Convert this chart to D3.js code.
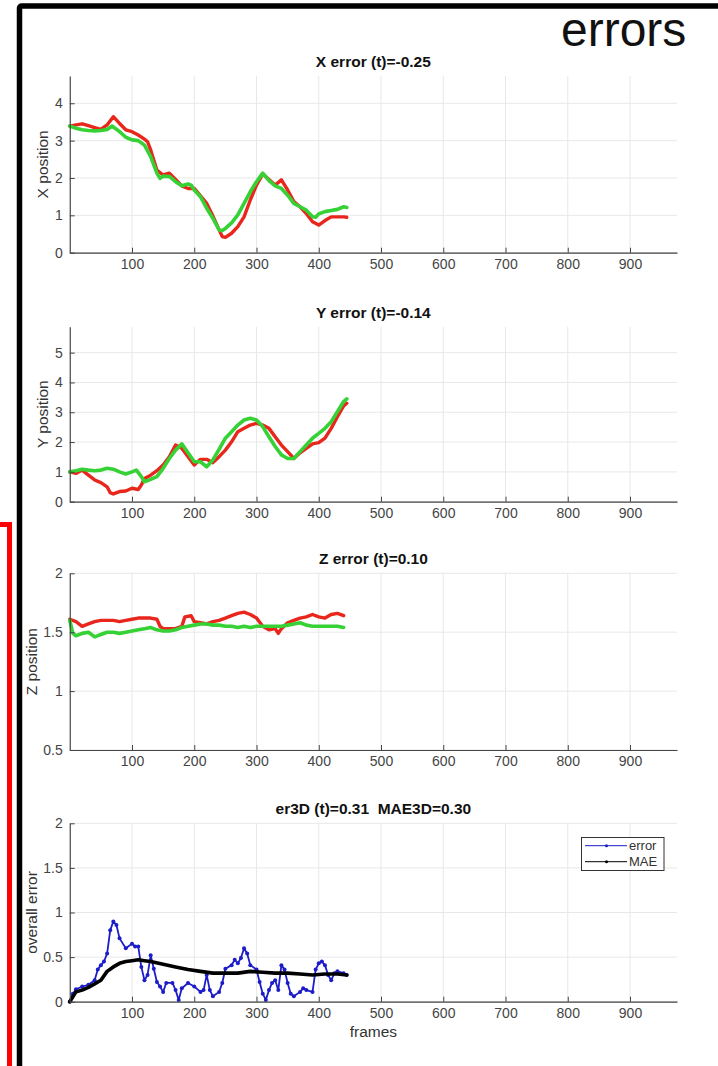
<!DOCTYPE html>
<html>
<head>
<meta charset="utf-8">
<title>errors</title>
<style>
  body { margin: 0; background: #fff; }
  svg text { font-family: "Liberation Sans", Arial, sans-serif; }
</style>
</head>
<body>
<script src="https://cdn.jsdelivr.net/npm/d3@7"></script>
<script>
// frame ticks shared by all panels
var frameTicks = [100, 200, 300, 400, 500, 600, 700, 800, 900];

// X position: [frame, value]
var xRed = [[0,3.39],[10,3.42],[20,3.45],[30,3.4],[40,3.35],[50,3.3],[60,3.42],[70,3.64],[80,3.46],[90,3.29],[100,3.24],[110,3.15],[120,3.04],[125,2.97],[130,2.75],[140,2.21],[150,2.08],[160,2.13],[170,1.96],[180,1.79],[190,1.72],[200,1.72],[210,1.52],[220,1.32],[230,0.98],[240,0.61],[245,0.43],[250,0.41],[260,0.52],[270,0.7],[280,0.96],[290,1.41],[300,1.81],[310,2.11],[320,1.96],[330,1.81],[340,1.95],[350,1.68],[360,1.37],[370,1.23],[380,1.05],[390,0.83],[400,0.74],[410,0.86],[420,0.96],[430,0.96],[440,0.96],[445,0.95]];
var xGreen = [[0,3.39],[10,3.33],[20,3.29],[30,3.27],[40,3.26],[50,3.27],[60,3.3],[68,3.39],[80,3.24],[90,3.09],[100,3.02],[110,3.0],[120,2.88],[130,2.57],[140,2.13],[145,1.99],[150,2.05],[160,2.04],[170,1.9],[180,1.79],[190,1.84],[195,1.81],[200,1.68],[210,1.5],[220,1.19],[230,0.92],[240,0.61],[245,0.59],[250,0.65],[260,0.8],[270,1.01],[280,1.32],[290,1.63],[300,1.9],[310,2.13],[320,1.93],[330,1.79],[340,1.72],[350,1.54],[360,1.32],[370,1.23],[380,1.14],[390,0.96],[395,0.95],[400,1.04],[410,1.1],[420,1.13],[430,1.16],[440,1.23],[445,1.21]];

// Y position
var yRed = [[0,1.0],[10,0.95],[20,1.06],[30,0.89],[40,0.73],[50,0.64],[60,0.5],[65,0.3],[70,0.26],[80,0.34],[90,0.36],[100,0.45],[110,0.41],[115,0.56],[120,0.78],[130,0.89],[140,1.04],[150,1.23],[160,1.51],[170,1.9],[180,1.79],[190,1.51],[200,1.23],[210,1.42],[220,1.42],[230,1.31],[240,1.51],[250,1.73],[260,2.01],[270,2.35],[280,2.46],[290,2.57],[300,2.63],[310,2.57],[320,2.46],[330,2.18],[340,1.9],[350,1.68],[360,1.45],[370,1.64],[380,1.79],[390,1.94],[400,1.98],[410,2.13],[420,2.46],[430,2.85],[440,3.21],[445,3.3]];
var yGreen = [[0,1.0],[10,1.04],[20,1.09],[30,1.06],[40,1.04],[50,1.06],[60,1.12],[70,1.09],[80,1.0],[90,0.93],[100,1.0],[107,1.06],[115,0.84],[120,0.67],[130,0.75],[140,0.84],[150,1.12],[160,1.45],[170,1.73],[180,1.94],[190,1.64],[200,1.34],[210,1.34],[220,1.17],[230,1.4],[240,1.76],[250,2.13],[260,2.35],[270,2.57],[280,2.74],[290,2.8],[300,2.74],[310,2.52],[320,2.18],[330,1.85],[340,1.57],[350,1.45],[360,1.45],[370,1.68],[380,1.9],[390,2.13],[400,2.29],[410,2.46],[420,2.68],[430,3.02],[440,3.36],[445,3.45]];

// Z position
var zRed = [[0,1.61],[10,1.59],[20,1.55],[30,1.57],[40,1.59],[50,1.6],[60,1.6],[70,1.6],[80,1.59],[90,1.6],[100,1.61],[110,1.62],[120,1.62],[130,1.62],[140,1.61],[145,1.55],[150,1.53],[160,1.53],[170,1.53],[180,1.55],[185,1.63],[195,1.64],[200,1.59],[210,1.58],[220,1.57],[230,1.59],[240,1.6],[250,1.62],[260,1.64],[270,1.66],[280,1.67],[290,1.65],[300,1.62],[310,1.55],[320,1.52],[330,1.53],[335,1.49],[340,1.53],[350,1.58],[360,1.6],[370,1.62],[380,1.63],[390,1.65],[400,1.63],[410,1.62],[420,1.65],[430,1.66],[440,1.64]];
var zGreen = [[0,1.6],[5,1.49],[10,1.47],[20,1.49],[30,1.5],[40,1.46],[50,1.48],[60,1.5],[70,1.5],[80,1.49],[90,1.5],[100,1.51],[110,1.52],[120,1.53],[130,1.54],[140,1.52],[150,1.51],[160,1.51],[170,1.52],[180,1.54],[190,1.55],[200,1.56],[210,1.57],[220,1.57],[230,1.56],[240,1.56],[250,1.55],[260,1.55],[270,1.54],[280,1.55],[290,1.54],[300,1.55],[310,1.55],[320,1.55],[330,1.55],[340,1.55],[350,1.56],[360,1.57],[370,1.58],[380,1.56],[390,1.55],[400,1.55],[410,1.55],[420,1.55],[430,1.55],[440,1.54]];

// overall 3D error and running MAE
var er3D = [[0,0],[5,0.09],[10,0.14],[20,0.17],[30,0.19],[40,0.24],[45,0.36],[50,0.41],[55,0.45],[60,0.54],[65,0.8],[70,0.9],[75,0.86],[80,0.71],[90,0.6],[100,0.65],[105,0.62],[110,0.62],[115,0.39],[120,0.24],[125,0.3],[130,0.52],[135,0.37],[140,0.22],[145,0.17],[150,0.11],[155,0.21],[165,0.21],[170,0.13],[175,0.02],[180,0.15],[190,0.21],[200,0.17],[210,0.11],[215,0.13],[220,0.3],[225,0.13],[230,0.06],[240,0.11],[245,0.21],[250,0.37],[260,0.41],[265,0.47],[270,0.43],[275,0.49],[280,0.6],[285,0.54],[290,0.41],[300,0.36],[305,0.22],[310,0.09],[315,0.02],[320,0.13],[325,0.21],[330,0.24],[335,0.13],[340,0.41],[345,0.36],[350,0.21],[355,0.09],[360,0.06],[370,0.11],[375,0.15],[380,0.13],[390,0.11],[395,0.36],[400,0.43],[405,0.45],[410,0.41],[415,0.3],[420,0.24],[425,0.32],[430,0.34],[440,0.32],[445,0.3]];
var mae3D = [[0,0],[10,0.11],[20,0.13],[30,0.16],[40,0.2],[50,0.24],[60,0.34],[70,0.39],[80,0.43],[90,0.45],[100,0.46],[110,0.47],[120,0.46],[130,0.45],[150,0.42],[170,0.39],[190,0.36],[210,0.34],[230,0.32],[250,0.32],[270,0.32],[290,0.34],[310,0.33],[330,0.32],[350,0.32],[370,0.31],[390,0.3],[410,0.31],[430,0.31],[445,0.3]];

var titles = ["X error (t)=-0.25", "Y error (t)=-0.14", "Z error (t)=0.10", "er3D (t)=0.31  MAE3D=0.30"];
var yLabels = ["X position", "Y position", "Z position", "overall error"];
var yTicks = [[0, 1, 2, 3, 4], [0, 1, 2, 3, 4, 5], [0.5, 1, 1.5, 2], [0, 0.5, 1, 1.5, 2]];
var yDomains = [[0, 4.73], [0, 5.87], [0.5, 2], [0, 2]];
var legendNames = ["error", "MAE"];

var W = 718, H = 1066;
var svg = d3.select('body').append('svg').attr('width', W).attr('height', H);

// frame decorations
svg.append('rect').attr('x', -50).attr('y', 524.5).attr('width', 59.5).attr('height', 700)
  .attr('fill', 'none').attr('stroke', '#f00').attr('stroke-width', 5);
svg.append('rect').attr('x', 19.5).attr('y', 6).attr('width', 760).attr('height', 1100).attr('rx', 2)
  .attr('fill', 'none').attr('stroke', '#000').attr('stroke-width', 5.5);

svg.append('text').attr('x', 561).attr('y', 46).attr('font-size', 48).attr('fill', '#111').text('errors');

var x = d3.scaleLinear().domain([0, 975.5]).range([69.75, 677]);

var panelTop = [76, 326.7, 573.3, 823.3];
var panelBot = [252.7, 501.7, 750, 1001.7];
var labelX = [43, 43, 32, 32];

var series = [
  [{d: xRed, c: '#e8261c', w: 3.4}, {d: xGreen, c: '#35d135', w: 3.6}],
  [{d: yRed, c: '#e8261c', w: 3.4}, {d: yGreen, c: '#35d135', w: 3.6}],
  [{d: zRed, c: '#e8261c', w: 3.4}, {d: zGreen, c: '#35d135', w: 3.6}],
  [{d: er3D, c: '#1c1cc8', w: 1.8, dots: true}, {d: mae3D, c: '#000', w: 3.6}]
];

for (var p = 0; p < 4; p++) {
  var y = d3.scaleLinear().domain(yDomains[p]).range([panelBot[p], panelTop[p]]);
  var g = svg.append('g');

  // grid
  g.selectAll('.vg').data(frameTicks).enter().append('line')
    .attr('x1', function(d){ return x(d); }).attr('x2', function(d){ return x(d); })
    .attr('y1', panelTop[p]).attr('y2', panelBot[p])
    .attr('stroke', '#e8e8e8').attr('stroke-width', 1);
  g.selectAll('.hg').data(yTicks[p]).enter().append('line')
    .attr('x1', x.range()[0]).attr('x2', x.range()[1])
    .attr('y1', function(d){ return y(d); }).attr('y2', function(d){ return y(d); })
    .attr('stroke', '#e8e8e8').attr('stroke-width', 1);

  // data
  var line = d3.line().x(function(d){ return x(d[0]); }).y(function(d){ return y(d[1]); });
  series[p].forEach(function(s) {
    g.append('path').datum(s.d).attr('d', line).attr('fill', 'none')
      .attr('stroke', s.c).attr('stroke-width', s.w)
      .attr('stroke-linejoin', 'round').attr('stroke-linecap', 'round');
    if (s.dots) {
      g.selectAll('.dot' + p).data(s.d).enter().append('circle')
        .attr('cx', function(d){ return x(d[0]); }).attr('cy', function(d){ return y(d[1]); })
        .attr('r', 2).attr('fill', s.c);
    }
  });

  // axes, ticks pointing inward
  var xa = g.append('g').attr('transform', 'translate(0,' + panelBot[p] + ')')
    .call(d3.axisBottom(x).tickValues(frameTicks).tickSizeInner(-5).tickSizeOuter(0).tickPadding(6));
  var ya = g.append('g').attr('transform', 'translate(' + x.range()[0] + ',0)')
    .call(d3.axisLeft(y).tickValues(yTicks[p]).tickFormat(d3.format('')).tickSizeInner(-5).tickSizeOuter(0).tickPadding(7));
  [xa, ya].forEach(function(a) {
    a.select('.domain').attr('stroke', '#444').attr('stroke-width', 1.2);
    a.selectAll('.tick line').attr('stroke', '#444');
    a.selectAll('.tick text').attr('fill', '#444').attr('font-size', 14)
      .style('font-family', '"Liberation Sans", Arial, sans-serif');
  });

  g.append('text').attr('x', (x.range()[0] + x.range()[1]) / 2).attr('y', panelTop[p] - 9)
    .attr('text-anchor', 'middle').attr('font-size', 15.5).attr('font-weight', 'bold').attr('fill', '#111')
    .style('white-space', 'pre').text(titles[p]);

  g.append('text').attr('transform', 'translate(' + labelX[p] + ',' + (panelTop[p] + panelBot[p]) / 2 + ') rotate(-90)')
    .attr('text-anchor', 'middle').attr('dy', '0.35em').attr('font-size', 15.5).attr('fill', '#333')
    .text(yLabels[p]);
}

svg.append('text').attr('x', (x.range()[0] + x.range()[1]) / 2).attr('y', 1037)
  .attr('text-anchor', 'middle').attr('font-size', 15.5).attr('fill', '#333').text('frames');

// legend for the last panel
var lg = svg.append('g');
lg.append('rect').attr('x', 581.5).attr('y', 837.5).attr('width', 82.5).attr('height', 33)
  .attr('fill', '#fff').attr('stroke', '#333').attr('stroke-width', 1);
var legendColors = ['#1c1cc8', '#000'];
legendNames.forEach(function(n, i) {
  var ly = 845.7 + i * 16;
  lg.append('line').attr('x1', 585).attr('x2', 627).attr('y1', ly).attr('y2', ly)
    .attr('stroke', legendColors[i]).attr('stroke-width', 1);
  lg.append('circle').attr('cx', 606.5).attr('cy', ly).attr('r', 1.5).attr('fill', legendColors[i]);
  lg.append('text').attr('x', 629).attr('y', ly).attr('dy', '0.35em').attr('font-size', 13)
    .attr('fill', '#333').text(n);
});
</script>
</body>
</html>
